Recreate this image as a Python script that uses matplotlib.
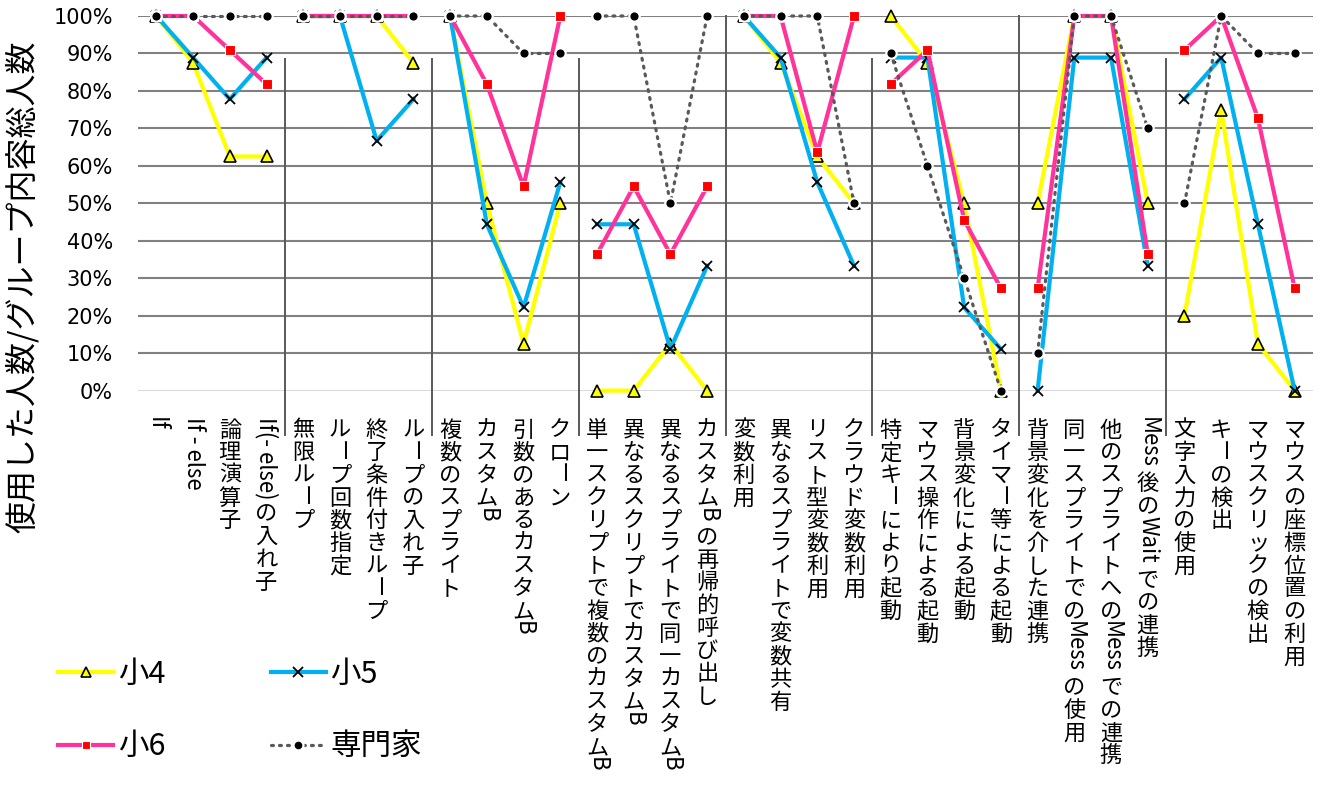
import re
import numpy as np
import matplotlib
matplotlib.use("Agg")
import matplotlib.pyplot as plt
from matplotlib.lines import Line2D
from matplotlib.textpath import TextPath
from matplotlib.font_manager import FontProperties

# ---- data -------------------------------------------------------------
categories = [
    "If", "If - else", "論理演算子", "If(- else)の入れ子",
    "無限ループ", "ループ回数指定", "終了条件付きループ", "ループの入れ子",
    "複数のスプライト", "カスタムB", "引数のあるカスタムB", "クローン",
    "単一スクリプトで複数のカスタムB", "異なるスクリプトでカスタムB",
    "異なるスプライトで同一カスタムB", "カスタムBの再帰的呼び出し",
    "変数利用", "異なるスプライトで変数共有", "リスト型変数利用", "クラウド変数利用",
    "特定キーにより起動", "マウス操作による起動", "背景変化による起動", "タイマー等による起動",
    "背景変化を介した連携", "同一スプライトでのMessの使用",
    "他のスプライトへのMessでの連携", "Mess後のWaitでの連携",
    "文字入力の使用", "キーの検出", "マウスクリックの検出", "マウスの座標位置の利用",
]

grade4 = [100, 87.5, 62.5, 62.5,
          100, 100, 100, 87.5,
          100, 50, 12.5, 50,
          0, 0, 12.5, 0,
          100, 87.5, 62.5, 50,
          100, 87.5, 50, 0,
          50, 100, 100, 50,
          20, 75, 12.5, 0]
grade5 = [100, 88.9, 77.8, 88.9,
          100, 100, 66.7, 77.8,
          100, 44.4, 22.2, 55.6,
          44.4, 44.4, 11.1, 33.3,
          100, 88.9, 55.6, 33.3,
          88.9, 88.9, 22.2, 11.1,
          0, 88.9, 88.9, 33.3,
          77.8, 88.9, 44.4, 0]
grade6 = [100, 100, 90.9, 81.8,
          100, 100, 100, 100,
          100, 81.8, 54.5, 100,
          36.4, 54.5, 36.4, 54.5,
          100, 100, 63.6, 100,
          81.8, 90.9, 45.5, 27.3,
          27.3, 100, 100, 36.4,
          90.9, 100, 72.7, 27.3]
expert = [100, 100, 100, 100,
          100, 100, 100, 100,
          100, 100, 90, 90,
          100, 100, 50, 100,
          100, 100, 100, 50,
          90, 60, 30, 0,
          10, 100, 100, 70,
          50, 100, 90, 90]

series_names = ["小4", "小5", "小6", "専門家"]
yticks = list(range(0, 101, 10))
ylabel = "使用した人数/グループ内容総人数"
GROUP = 4

# ---- styling ----------------------------------------------------------
CJK = ["Noto Sans CJK JP", "DejaVu Sans"]
styles = [
    dict(color="#FFFF00", lw=3, marker="^", ms=8, mfc="#FFFF00", mec="black", mew=1.2),
    dict(color="#00B0F0", lw=3, marker="x", ms=7.5, mec="black", mew=1.3),
    dict(color="#FF3399", lw=3, marker="s", ms=6.5, mfc="#FF0000", mec="white", mew=0.8),
    dict(color="#595959", lw=2.3, ls=(0, (0.6, 1.9)), dash_capstyle="round",
         marker="o", ms=7.5, mfc="black", mec="white", mew=1.6),
]

W, H = 1321, 800
fig = plt.figure(figsize=(W / 100, H / 100), dpi=100)
ax_l, ax_r, ax_t, ax_b = 138, 1313, 16, 390.6
ax = fig.add_axes([ax_l / W, 1 - ax_b / H, (ax_r - ax_l) / W, (ax_b - ax_t) / H])

n = len(categories)
x = np.arange(n)
ax.set_xlim(-0.5, n - 0.5)
ax.set_ylim(0, 100)

for s in ax.spines.values():
    s.set_visible(False)
ax.set_yticks(yticks)
ax.set_yticklabels([f"{v}%" for v in yticks], fontsize=15, family="DejaVu Sans")
ax.tick_params(axis="y", length=0, pad=18)
ax.set_xticks([])
ax.yaxis.grid(True, color="#808080", lw=1.5)
ax.set_axisbelow(True)
ax.get_ygridlines()[0].set_color("#d9d9d9")

# group separators
for b in range(1, n // GROUP):
    top = 1.0 if b in (4, 6) else 0.885
    ax.axvline(b * GROUP - 0.5, ymin=-0.1185, ymax=top, color="#595959",
               lw=1.4, clip_on=False, zorder=1)

# series, drawn group by group (lines break between groups)
all_series = [grade4, grade5, grade6, expert]
handles = []
for vals, st, name in zip(all_series, styles, series_names):
    vals = np.asarray(vals, dtype=float)
    for g in range(n // GROUP):
        sl = slice(g * GROUP, (g + 1) * GROUP)
        ax.plot(x[sl], vals[sl], clip_on=False, zorder=3, **st)
    handles.append(Line2D([], [], **st))

# vertical category labels: CJK upright, Latin runs turned clockwise
LAB_FS = 16
lab_fp = FontProperties(family=CJK, size=LAB_FS)
TOP_PT = 19


def vertical_label(xpos, text):
    y = TOP_PT
    for seg in re.findall(r"[\x20-\x7e]+|.", text):
        if seg.isascii():
            seg = seg.strip()
            if not seg:
                continue
            w = TextPath((0, 0), seg, prop=lab_fp).get_extents().width
            ax.annotate(seg, xy=(xpos, 0), xycoords=("data", "axes fraction"),
                        xytext=(0, -y), textcoords="offset points",
                        rotation=-90, ha="center", va="top",
                        fontproperties=lab_fp, annotation_clip=False)
            y += w + 0.25 * LAB_FS
        elif seg == "ー":
            ax.annotate(seg, xy=(xpos, 0), xycoords=("data", "axes fraction"),
                        xytext=(0, -y), textcoords="offset points",
                        rotation=-90, ha="center", va="top",
                        fontproperties=lab_fp, annotation_clip=False)
            y += 1.02 * LAB_FS
        else:
            ax.annotate(seg, xy=(xpos, 0), xycoords=("data", "axes fraction"),
                        xytext=(0, -(y + 0.88 * LAB_FS)), textcoords="offset points",
                        ha="center", va="baseline",
                        fontproperties=lab_fp, annotation_clip=False)
            y += 1.02 * LAB_FS


for xi, lab in zip(x, categories):
    vertical_label(xi, lab)

# axis title
fig.text(22 / W, 1 - 287 / H, ylabel, rotation=90, ha="center", va="center",
         fontproperties=FontProperties(family=CJK, size=23))

# legend (two columns: 小4/小6 then 小5/専門家)
order = [0, 2, 1, 3]
fig.legend([handles[i] for i in order], [series_names[i] for i in order],
           loc="upper left", bbox_to_anchor=(58 / W, 1 - 659 / H), ncol=2,
           frameon=False, prop=FontProperties(family=CJK, size=22),
           handlelength=1.8, handletextpad=0.15, columnspacing=3.45,
           labelspacing=1.35, borderaxespad=0, borderpad=0, markerscale=0.95)

fig.savefig("out.png", dpi=100)
